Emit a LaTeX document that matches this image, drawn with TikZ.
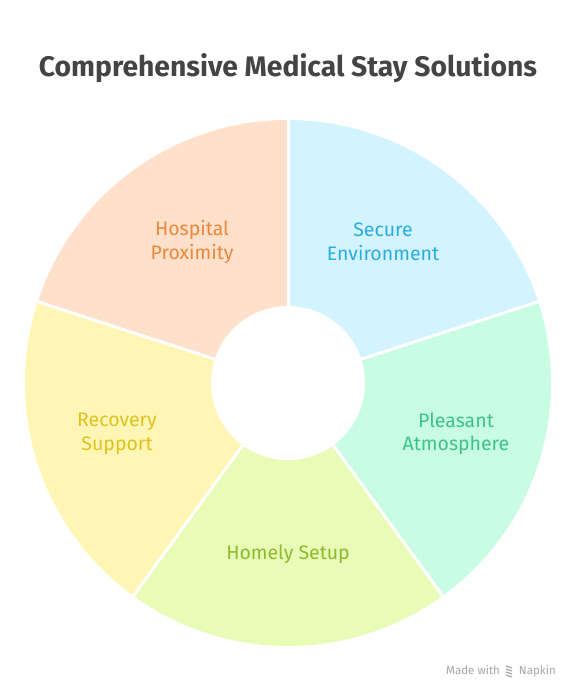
\documentclass[tikz,border=0pt]{standalone}
\usepackage{fontspec}
\setmainfont{Fira Sans}
\usetikzlibrary{calc}
\definecolor{peachF}{HTML}{FFE1CB}
\definecolor{peachT}{HTML}{E8883A}
\definecolor{blueF}{HTML}{D3F3FE}
\definecolor{blueT}{HTML}{29ACE0}
\definecolor{mintF}{HTML}{C8FDE3}
\definecolor{mintT}{HTML}{3CC488}
\definecolor{limeF}{HTML}{E9FCB7}
\definecolor{limeT}{HTML}{8DBB2C}
\definecolor{yellowF}{HTML}{FFF6B6}
\definecolor{yellowT}{HTML}{DEC21E}
\definecolor{titleC}{HTML}{444444}
\tikzset{
  lbl/.style={align=center, font=\fontsize{19.5}{23.5}\selectfont},
  sep/.style={white, line width=3pt},
}
\begin{document}
\begin{tikzpicture}[x=1pt,y=1pt]
\useasboundingbox (0,0) rectangle (577,696);
\fill[white] (0,0) rectangle (577,696);
\coordinate (c) at (288,313);
\def\R{263}
\fill[peachF] (c) -- ++(90:\R) arc[start angle=90,end angle=162,radius=\R] -- cycle;
\fill[yellowF] (c) -- ++(162:\R) arc[start angle=162,end angle=234,radius=\R] -- cycle;
\fill[limeF] (c) -- ++(234:\R) arc[start angle=234,end angle=306,radius=\R] -- cycle;
\fill[mintF] (c) -- ++(306:\R) arc[start angle=306,end angle=378,radius=\R] -- cycle;
\fill[blueF] (c) -- ++(18:\R) arc[start angle=18,end angle=90,radius=\R] -- cycle;
\foreach \a/\n in {90/p1,162/p2,234/p3,306/p4,18/p5} {
  \coordinate (\n) at ($(c)+(\a:\R+2)$);
  \draw[sep] (c) -- (\n);
}
\fill[white] (c) circle[radius=77];
\node[font=\fontsize{28.3}{32}\selectfont\bfseries, text=titleC] (title) at (288,628) {Comprehensive Medical Stay Solutions};
\node[lbl, text=peachT] (hosp) at (192,454) {Hospital\\Proximity};
\node[lbl, text=blueT] (sec) at (383,454) {Secure\\Environment};
\node[lbl, text=mintT] (pleas) at (456,262) {Pleasant\\Atmosphere};
\node[lbl, text=yellowT] (recov) at (117,262) {Recovery\\Support};
\node[lbl, text=limeT] (home) at (288,142) {Homely Setup};
\node[font=\fontsize{11.5}{13}\selectfont, text=black!35, anchor=east, inner sep=0pt] (made) at (556,25) {Made with \hspace{13pt} Napkin};
\coordinate (ic) at (509,25);
\foreach \dy in {-4,-1,2,5} \draw[black!35, line width=1.2pt] ($(ic)+(-3,\dy)$) -- ($(ic)+(3,\dy-2)$);
\end{tikzpicture}
\end{document}
